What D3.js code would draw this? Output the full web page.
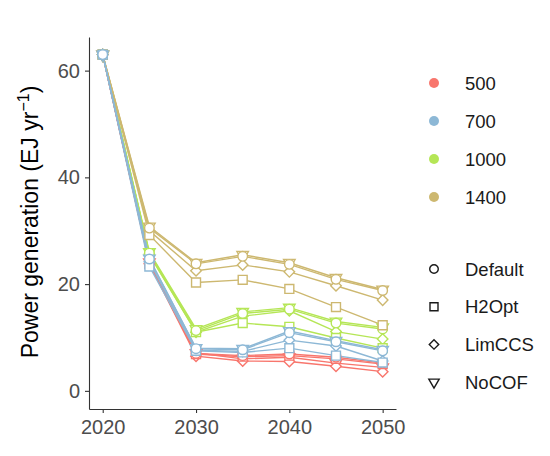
<!DOCTYPE html>
<html>
<head>
<meta charset="utf-8">
<script src="https://cdn.jsdelivr.net/npm/d3@7"></script>
<style>
  body { margin: 0; background: #fff; }
  text { font-family: "Liberation Sans", Arial, sans-serif; }
</style>
</head>
<body>
<div id="container"></div>
<script>
const years = [2020, 2025, 2030, 2035, 2040, 2045, 2050];
const targets = ["500", "700", "1000", "1400"];
const scenarios = ["Default", "H2Opt", "LimCCS", "NoCOF"];
const xTicks = [2020, 2030, 2040, 2050];
const yTicks = [0, 20, 40, 60];

// values per target, per scenario (EJ/yr)
const values500 = {
  Default: [63, 24.0, 7.0, 6.6, 6.9, 6.3, 5.2],
  H2Opt:   [63, 23.8, 6.9, 6.4, 6.6, 6.0, 5.0],
  LimCCS:  [63, 23.8, 6.5, 5.6, 5.5, 4.6, 3.6],
  NoCOF:   [63, 24.1, 7.1, 6.0, 6.3, 5.2, 4.4]
};
const values700 = {
  Default: [63, 24.7, 7.9, 7.7, 10.9, 9.2, 7.5],
  H2Opt:   [63, 23.3, 7.5, 7.2, 8.0, 6.6, 5.3],
  LimCCS:  [63, 24.2, 7.6, 7.4, 9.5, 8.4, 5.6],
  NoCOF:   [63, 24.8, 8.0, 7.9, 11.2, 9.4, 7.7]
};
const values1000 = {
  Default: [63, 25.8, 11.3, 14.5, 15.3, 12.7, 11.6],
  H2Opt:   [63, 25.5, 11.0, 12.7, 12.0, 9.9, 8.0],
  LimCCS:  [63, 25.6, 11.0, 14.0, 15.0, 11.1, 9.7],
  NoCOF:   [63, 26.0, 11.6, 14.8, 15.6, 13.0, 11.9]
};
const values1400 = {
  Default: [63, 30.5, 23.8, 25.2, 23.7, 20.9, 18.8],
  H2Opt:   [63, 29.2, 20.3, 20.8, 19.1, 15.7, 12.3],
  LimCCS:  [63, 30.0, 22.5, 23.6, 22.3, 19.7, 17.0],
  NoCOF:   [63, 30.8, 24.0, 25.5, 24.0, 21.2, 19.0]
};

const valuesByTarget = { "500": values500, "700": values700, "1000": values1000, "1400": values1400 };

const width = 550;
const height = 456;

const x = d3.scaleLinear().domain([2018.53, 2051.43]).range([89, 396]);
const y = d3.scaleLinear().domain([-3.4, 66.3]).range([409, 37]);

const color = d3.scaleOrdinal()
  .domain(targets)
  .range(["#F8766D", "#8DB8D6", "#B5E656", "#CDB870"]);

// ggplot-like open shapes: diamond = square turned 45 degrees
const symbolFor = {
  Default: d3.symbolCircle,
  H2Opt: d3.symbolSquare,
  LimCCS: d3.symbolSquare,
  NoCOF: d3.symbolTriangle
};
const sizeFor = { Default: 72, H2Opt: 80, LimCCS: 56, NoCOF: 58 };
const rotFor = { Default: 0, H2Opt: 0, LimCCS: 45, NoCOF: 180 };

const svg = d3.create("svg").attr("width", width).attr("height", height);

// draw order so blue ends on top, circles drawn over triangles
const drawOrder = ["500", "1000", "1400", "700"];
const shapeOrder = ["NoCOF", "LimCCS", "H2Opt", "Default"];

const series = [];
drawOrder.forEach((t) => {
  shapeOrder.forEach((s) => {
    series.push({
      target: t,
      scenario: s,
      points: years.map((yr, i) => ({ year: yr, value: valuesByTarget[t][s][i] }))
    });
  });
});

const line = d3.line().x((d) => x(d.year)).y((d) => y(d.value));

svg.append("g")
  .selectAll("path")
  .data(series)
  .join("path")
  .attr("d", (d) => line(d.points))
  .attr("fill", "none")
  .attr("stroke", (d) => color(d.target))
  .attr("stroke-width", 1.4);

const pts = svg.append("g");
series.forEach((d) => {
  pts.selectAll(null)
    .data(d.points)
    .join("path")
    .attr("transform", (p) => `translate(${x(p.year)},${y(p.value)}) rotate(${rotFor[d.scenario]})`)
    .attr("d", d3.symbol().type(symbolFor[d.scenario]).size(sizeFor[d.scenario]))
    .attr("fill", "#fff")
    .attr("stroke", color(d.target))
    .attr("stroke-width", 1.4);
});

// axes
const xAxis = svg.append("g")
  .attr("transform", `translate(0,409)`)
  .call(d3.axisBottom(x).tickValues(xTicks).tickFormat(d3.format("d")).tickSizeInner(4).tickSizeOuter(0));
const yAxis = svg.append("g")
  .attr("transform", `translate(89,0)`)
  .call(d3.axisLeft(y).tickValues(yTicks).tickSizeInner(4).tickSizeOuter(0));

[xAxis, yAxis].forEach((g) => {
  g.select(".domain").attr("stroke", "#333").attr("stroke-width", 1.1);
  g.selectAll(".tick line").attr("stroke", "#333").attr("stroke-width", 1.1);
  g.selectAll(".tick text")
    .attr("fill", "#4D4D4D")
    .attr("font-size", 20)
    .attr("font-family", "Liberation Sans, Arial, sans-serif");
});
xAxis.selectAll(".tick text").attr("dy", "0.9em");
yAxis.selectAll(".tick text").attr("dx", "-0.1em");

// y title
const yTitle = svg.append("text")
  .attr("transform", `translate(38,222) rotate(-90)`)
  .attr("text-anchor", "middle")
  .attr("font-size", 23)
  .attr("fill", "#000");
yTitle.append("tspan").text("Power generation (EJ yr");
yTitle.append("tspan").attr("dy", -9).attr("font-size", 16).text("\u22121");
yTitle.append("tspan").attr("dy", 9).text(")");

// legend: colors
const legColor = svg.append("g").attr("transform", "translate(434,83)");
legColor.selectAll("circle")
  .data(targets)
  .join("circle")
  .attr("cx", 0)
  .attr("cy", (d, i) => i * 38)
  .attr("r", 5)
  .attr("fill", (d) => color(d));
legColor.selectAll("text")
  .data(targets)
  .join("text")
  .attr("x", 31)
  .attr("y", (d, i) => i * 38)
  .attr("dy", "0.36em")
  .attr("font-size", 18.5)
  .attr("fill", "#1a1a1a")
  .text((d) => d);

// legend: shapes
const legShape = svg.append("g").attr("transform", "translate(434,269)");
legShape.selectAll("path")
  .data(scenarios)
  .join("path")
  .attr("transform", (d, i) => `translate(0,${i * 37.7}) rotate(${rotFor[d]})`)
  .attr("d", (d) => d3.symbol().type(symbolFor[d]).size(sizeFor[d] * 0.8)())
  .attr("fill", "none")
  .attr("stroke", "#1a1a1a")
  .attr("stroke-width", 1.4);
legShape.selectAll("text")
  .data(scenarios)
  .join("text")
  .attr("x", 31)
  .attr("y", (d, i) => i * 37.7)
  .attr("dy", "0.36em")
  .attr("font-size", 18.5)
  .attr("fill", "#1a1a1a")
  .text((d) => d);

d3.select("#container").append(() => svg.node());
</script>
</body>
</html>
